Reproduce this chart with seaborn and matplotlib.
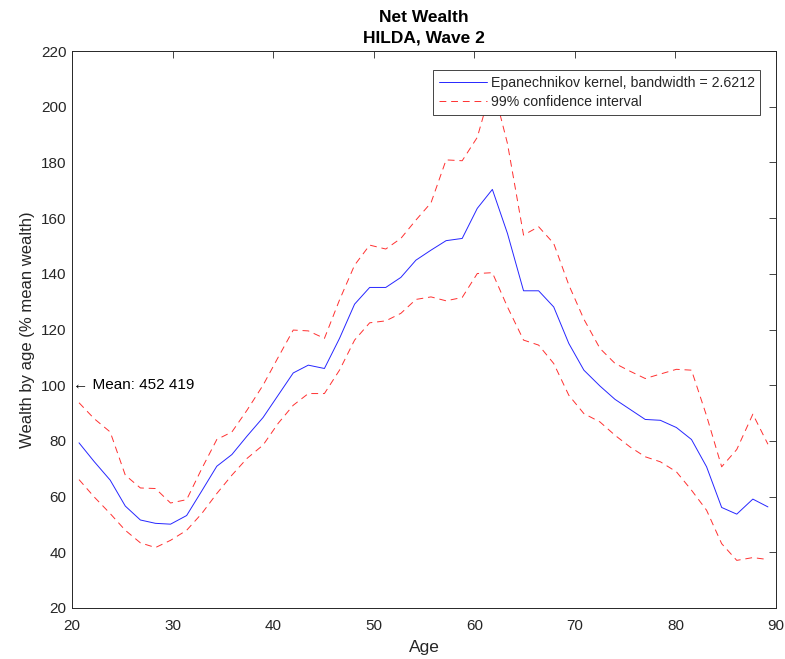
import matplotlib
matplotlib.use("Agg")
import matplotlib.pyplot as plt
import seaborn as sns
import pandas as pd

ages = [20.7, 22.2, 23.8, 25.3, 26.8, 28.3, 29.8, 31.4, 32.9, 34.4,
        35.9, 37.4, 39.0, 40.5, 42.0, 43.5, 45.1, 46.6, 48.1, 49.6,
        51.2, 52.7, 54.2, 55.7, 57.2, 58.8, 60.3, 61.8, 63.3, 64.9,
        66.4, 67.9, 69.4, 70.9, 72.5, 74.0, 75.5, 77.0, 78.5, 80.1,
        81.6, 83.1, 84.6, 86.1, 87.7, 89.2]

estimate = [79.3, 72.6, 65.9, 56.6, 51.6, 50.4, 50.1, 53.2, 62.0, 70.9,
            75.1, 81.7, 88.4, 96.4, 104.4, 107.2, 106.0, 116.8, 129.1, 135.1,
            135.1, 138.7, 144.9, 148.5, 151.9, 152.7, 163.5, 170.3, 154.5, 133.9,
            133.9, 128.1, 115.0, 105.4, 99.7, 94.9, 91.3, 87.7, 87.4, 84.8,
            80.5, 70.7, 56.1, 53.7, 59.1, 56.3]

upper = [93.7, 88.0, 83.2, 67.7, 63.1, 62.9, 57.7, 58.9, 70.0, 80.5,
         83.2, 91.0, 100.0, 110.0, 119.8, 119.5, 116.8, 130.6, 143.1, 150.3,
         148.9, 152.7, 159.3, 165.5, 180.9, 180.6, 189.0, 208.0, 186.8, 153.9,
         156.9, 150.9, 136.0, 123.7, 113.2, 107.8, 105.0, 102.4, 104.0, 105.7,
         105.4, 89.0, 70.7, 76.9, 89.6, 78.8]

lower = [66.1, 59.9, 53.9, 47.9, 43.4, 41.7, 44.3, 47.9, 53.9, 61.1,
         67.7, 73.7, 78.5, 86.3, 92.8, 97.0, 97.0, 105.4, 116.2, 122.4,
         123.1, 125.8, 130.8, 131.7, 130.3, 131.5, 140.1, 140.4, 128.1, 116.2,
         114.4, 107.8, 96.4, 89.8, 86.8, 82.0, 77.8, 74.3, 72.5, 68.9,
         62.3, 55.1, 43.1, 37.1, 38.1, 37.4]

title_lines = ["Net Wealth", "HILDA, Wave 2"]
legend_labels = ["Epanechnikov kernel, bandwidth = 2.6212", "99% confidence interval"]
mean_text = "Mean: 452 419"
xticks = [20, 30, 40, 50, 60, 70, 80, 90]
yticks = [20, 40, 60, 80, 100, 120, 140, 160, 180, 200, 220]

sns.set_theme(style="white")
plt.rcParams["font.family"] = ["Liberation Sans", "DejaVu Sans"]

df = pd.DataFrame({"age": ages, "est": estimate, "up": upper, "lo": lower})

fig = plt.figure(figsize=(7.85, 6.59), dpi=100)
ax = fig.add_axes([0.0917, 0.0774, 0.8968, 0.8452])

axcol = "#262626"
blue = "#2626ff"
red = "#ff3030"
dash = (0, (7, 5))
sns.lineplot(data=df, x="age", y="est", ax=ax, color=blue, lw=0.7,
             label=legend_labels[0])
sns.lineplot(data=df, x="age", y="up", ax=ax, color=red, lw=0.7,
             linestyle=dash, label=legend_labels[1])
sns.lineplot(data=df, x="age", y="lo", ax=ax, color=red, lw=0.7,
             linestyle=dash, label="_nolegend_")

ax.set_xlim(20, 90)
ax.set_ylim(20, 220)
ax.set_xticks(xticks)
ax.set_yticks(yticks)
ax.tick_params(axis="both", which="both", direction="in", length=5, width=0.6,
               colors=axcol, labelsize=11, top=True, right=True,
               labeltop=False, labelright=False)
ax.tick_params(axis="x", pad=8)
ax.tick_params(axis="y", pad=4)
for sp in ax.spines.values():
    sp.set_color(axcol)
    sp.set_linewidth(0.7)
    sp.set_visible(True)

ax.set_xlabel("Age", fontsize=12.5, color=axcol, labelpad=5)
ax.set_ylabel("Wealth by age (% mean wealth)", fontsize=12, color=axcol, labelpad=4)
ax.set_title("\n".join(title_lines), fontsize=12.5, fontweight="bold",
             color="black", pad=6, linespacing=1.45)

ax.text(20.1, 100, "\u2190 " + mean_text, fontsize=11, color="black",
        va="center", ha="left")

leg = ax.legend(loc="upper right", bbox_to_anchor=(0.978, 0.966), fontsize=10.2,
                frameon=True, fancybox=False, framealpha=1, edgecolor="#262626",
                handlelength=3.4, handletextpad=0.25, borderpad=0.42,
                labelspacing=0.36, borderaxespad=0)
leg.get_frame().set_linewidth(0.6)

fig.savefig("out.png", dpi=100, facecolor="white")
